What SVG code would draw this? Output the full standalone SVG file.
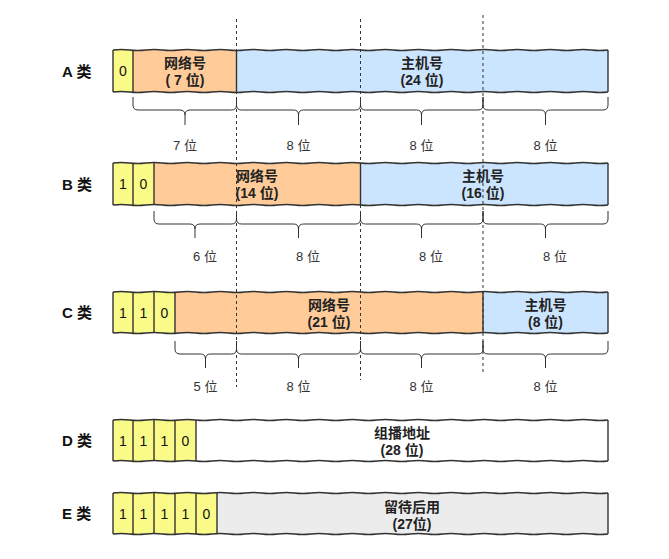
<svg xmlns="http://www.w3.org/2000/svg" xmlns:xlink="http://www.w3.org/1999/xlink" width="669" height="559" viewBox="0 0 669 559">
<style>
.cls{font-family:"Liberation Sans","Noto Sans CJK SC",sans-serif;font-size:15px;font-weight:bold;fill:#111;}
.bit{font-family:"Liberation Sans","Noto Sans CJK SC",sans-serif;font-size:14px;fill:#111;text-anchor:middle;}
.fld{font-family:"Liberation Sans","Noto Sans CJK SC",sans-serif;font-size:14px;font-weight:bold;fill:#222;text-anchor:middle;}
.len{font-family:"Liberation Sans","Noto Sans CJK SC",sans-serif;font-size:13px;fill:#333;text-anchor:middle;}
.edge{fill:none;stroke:#333;stroke-width:1.4;}
.div{stroke:#333;stroke-width:1.4;}
.dash{stroke:#333;stroke-width:1;stroke-dasharray:3,3;fill:none;}
.brace{fill:none;stroke:#333;stroke-width:1;}
.y{fill:#fafa88;}
.o{fill:#ffcc99;}
.b{fill:#cce5ff;}
.w{fill:#ffffff;}
.g{fill:#ececec;}
</style>
<defs>
<path id="wave" d="M113,0 Q121.25,-1 129.5,0 T146,0 T162.5,0 T179,0 T195.5,0 T212,0 T228.5,0 T245,0 T261.5,0 T278,0 T294.5,0 T311,0 T327.5,0 T344,0 T360.5,0 T377,0 T393.5,0 T410,0 T426.5,0 T443,0 T459.5,0 T476,0 T492.5,0 T509,0 T525.5,0 T542,0 T558.5,0 T575,0 T591.5,0 T608,0"/>
</defs>
<rect width="669" height="559" fill="#ffffff"/>

<g id="classA">
<text class="cls" x="62" y="77">A 类</text>
<rect class="y" x="113" y="50" width="20" height="42"/>
<rect class="o" x="133" y="50" width="103.5" height="42"/>
<rect class="b" x="236.5" y="50" width="371.5" height="42"/>
<use xlink:href="#wave" href="#wave" y="50" class="edge"/>
<use xlink:href="#wave" href="#wave" y="92" class="edge"/>
<line class="div" x1="113" y1="50" x2="113" y2="92"/>
<line class="div" x1="133" y1="50" x2="133" y2="92"/>
<line class="div" x1="236.5" y1="50" x2="236.5" y2="92"/>
<line class="div" x1="608" y1="50" x2="608" y2="92"/>
<text class="bit" x="123" y="76">0</text>
<text class="fld" x="185" y="68">网络号</text>
<text class="fld" x="185" y="85">( 7 位)</text>
<text class="fld" x="422" y="68">主机号</text>
<text class="fld" x="422" y="85">(24 位)</text>
<path class="brace" d="M133,97 V105 Q133,110 138,110 H180 Q185,110 185,115 V125 M185,115 Q185,110 190,110 H231.5 Q236.5,110 236.5,105 V97"/>
<path class="brace" d="M236.5,97 V105 Q236.5,110 241.5,110 H293.5 Q298.5,110 298.5,115 V125 M298.5,115 Q298.5,110 303.5,110 H355.5 Q360.5,110 360.5,105 V97"/>
<path class="brace" d="M360.5,97 V105 Q360.5,110 365.5,110 H416.5 Q421.5,110 421.5,115 V125 M421.5,115 Q421.5,110 426.5,110 H478 Q483,110 483,105 V97"/>
<path class="brace" d="M483,97 V105 Q483,110 488,110 H540.5 Q545.5,110 545.5,115 V125 M545.5,115 Q545.5,110 550.5,110 H603 Q608,110 608,105 V97"/>
<text class="len" x="185" y="150">7 位</text>
<text class="len" x="298.5" y="150">8 位</text>
<text class="len" x="421.5" y="150">8 位</text>
<text class="len" x="545.5" y="150">8 位</text>
</g>

<g id="classB">
<text class="cls" x="62" y="190">B 类</text>
<rect class="y" x="113" y="163" width="41" height="42"/>
<rect class="o" x="154" y="163" width="206.5" height="42"/>
<rect class="b" x="360.5" y="163" width="247.5" height="42"/>
<use xlink:href="#wave" href="#wave" y="163" class="edge"/>
<use xlink:href="#wave" href="#wave" y="205" class="edge"/>
<line class="div" x1="113" y1="163" x2="113" y2="205"/>
<line class="div" x1="133" y1="163" x2="133" y2="205"/>
<line class="div" x1="154" y1="163" x2="154" y2="205"/>
<line class="div" x1="360.5" y1="163" x2="360.5" y2="205"/>
<line class="div" x1="608" y1="163" x2="608" y2="205"/>
<text class="bit" x="123" y="189">1</text>
<text class="bit" x="143.5" y="189">0</text>
<text class="fld" x="257" y="181">网络号</text>
<text class="fld" x="257" y="198">(14 位)</text>
<text class="fld" x="483" y="181">主机号</text>
<text class="fld" x="483" y="198">(16 位)</text>
<path class="brace" d="M154,211 V219 Q154,224 159,224 H190 Q195,224 195,229 V238 M195,229 Q195,224 200,224 H231.5 Q236.5,224 236.5,219 V211"/>
<path class="brace" d="M236.5,211 V219 Q236.5,224 241.5,224 H293.5 Q298.5,224 298.5,229 V238 M298.5,229 Q298.5,224 303.5,224 H355.5 Q360.5,224 360.5,219 V211"/>
<path class="brace" d="M360.5,211 V219 Q360.5,224 365.5,224 H416.5 Q421.5,224 421.5,229 V238 M421.5,229 Q421.5,224 426.5,224 H478 Q483,224 483,219 V211"/>
<path class="brace" d="M483,211 V219 Q483,224 488,224 H540.5 Q545.5,224 545.5,229 V238 M545.5,229 Q545.5,224 550.5,224 H603 Q608,224 608,219 V211"/>
<text class="len" x="205" y="261">6 位</text>
<text class="len" x="308" y="261">8 位</text>
<text class="len" x="431" y="261">8 位</text>
<text class="len" x="555" y="261">8 位</text>
</g>

<g id="classC">
<text class="cls" x="62" y="318">C 类</text>
<rect class="y" x="113" y="292" width="62" height="41"/>
<rect class="o" x="175" y="292" width="308" height="41"/>
<rect class="b" x="483" y="292" width="125" height="41"/>
<use xlink:href="#wave" href="#wave" y="292" class="edge"/>
<use xlink:href="#wave" href="#wave" y="333" class="edge"/>
<line class="div" x1="113" y1="292" x2="113" y2="333"/>
<line class="div" x1="133" y1="292" x2="133" y2="333"/>
<line class="div" x1="154" y1="292" x2="154" y2="333"/>
<line class="div" x1="175" y1="292" x2="175" y2="333"/>
<line class="div" x1="483" y1="292" x2="483" y2="333"/>
<line class="div" x1="608" y1="292" x2="608" y2="333"/>
<text class="bit" x="123" y="318">1</text>
<text class="bit" x="143.5" y="318">1</text>
<text class="bit" x="164.5" y="318">0</text>
<text class="fld" x="329" y="310">网络号</text>
<text class="fld" x="329" y="327">(21 位)</text>
<text class="fld" x="545.5" y="310">主机号</text>
<text class="fld" x="545.5" y="327">(8 位)</text>
<path class="brace" d="M175,341 V349 Q175,354 180,354 H200.5 Q205.5,354 205.5,359 V368 M205.5,359 Q205.5,354 210.5,354 H231.5 Q236.5,354 236.5,349 V341"/>
<path class="brace" d="M236.5,341 V349 Q236.5,354 241.5,354 H293.5 Q298.5,354 298.5,359 V368 M298.5,359 Q298.5,354 303.5,354 H355.5 Q360.5,354 360.5,349 V341"/>
<path class="brace" d="M360.5,341 V349 Q360.5,354 365.5,354 H416.5 Q421.5,354 421.5,359 V368 M421.5,359 Q421.5,354 426.5,354 H478 Q483,354 483,349 V341"/>
<path class="brace" d="M483,341 V349 Q483,354 488,354 H540.5 Q545.5,354 545.5,359 V368 M545.5,359 Q545.5,354 550.5,354 H603 Q608,354 608,349 V341"/>
<text class="len" x="205.5" y="391">5 位</text>
<text class="len" x="298.5" y="391">8 位</text>
<text class="len" x="421.5" y="391">8 位</text>
<text class="len" x="545.5" y="391">8 位</text>
</g>

<g id="classD">
<text class="cls" x="62" y="446">D 类</text>
<rect class="y" x="113" y="420" width="83" height="41"/>
<rect class="w" x="196" y="420" width="412" height="41"/>
<use xlink:href="#wave" href="#wave" y="420" class="edge"/>
<use xlink:href="#wave" href="#wave" y="461" class="edge"/>
<line class="div" x1="113" y1="420" x2="113" y2="461"/>
<line class="div" x1="133" y1="420" x2="133" y2="461"/>
<line class="div" x1="154" y1="420" x2="154" y2="461"/>
<line class="div" x1="175" y1="420" x2="175" y2="461"/>
<line class="div" x1="196" y1="420" x2="196" y2="461"/>
<line class="div" x1="608" y1="420" x2="608" y2="461"/>
<text class="bit" x="123" y="446">1</text>
<text class="bit" x="143.5" y="446">1</text>
<text class="bit" x="164.5" y="446">1</text>
<text class="bit" x="185.5" y="446">0</text>
<text class="fld" x="402" y="438">组播地址</text>
<text class="fld" x="402" y="455">(28 位)</text>
</g>

<g id="classE">
<text class="cls" x="62" y="519">E 类</text>
<rect class="y" x="113" y="493" width="104" height="41"/>
<rect class="g" x="217" y="493" width="391" height="41"/>
<use xlink:href="#wave" href="#wave" y="493" class="edge"/>
<use xlink:href="#wave" href="#wave" y="534" class="edge"/>
<line class="div" x1="113" y1="493" x2="113" y2="534"/>
<line class="div" x1="133" y1="493" x2="133" y2="534"/>
<line class="div" x1="154" y1="493" x2="154" y2="534"/>
<line class="div" x1="175" y1="493" x2="175" y2="534"/>
<line class="div" x1="196" y1="493" x2="196" y2="534"/>
<line class="div" x1="217" y1="493" x2="217" y2="534"/>
<line class="div" x1="608" y1="493" x2="608" y2="534"/>
<text class="bit" x="123" y="519">1</text>
<text class="bit" x="143.5" y="519">1</text>
<text class="bit" x="164.5" y="519">1</text>
<text class="bit" x="185.5" y="519">1</text>
<text class="bit" x="206.5" y="519">0</text>
<text class="fld" x="412" y="512">留待后用</text>
<text class="fld" x="412" y="529">(27位)</text>
</g>

<g id="connectors">
<line class="dash" x1="236.5" y1="19" x2="236.5" y2="387"/>
<line class="dash" x1="360.5" y1="19" x2="360.5" y2="380"/>
<line class="dash" x1="483" y1="15" x2="483" y2="375"/>
</g>
</svg>
